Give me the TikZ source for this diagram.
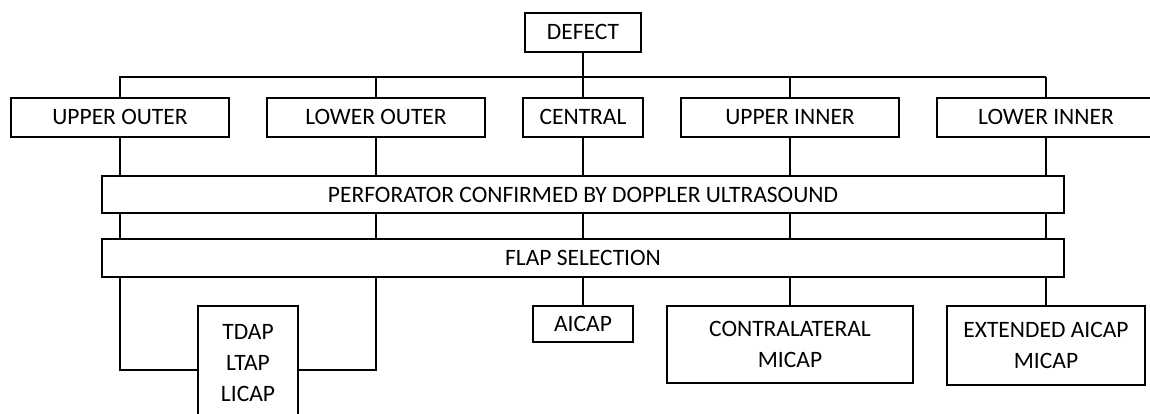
\documentclass[tikz,border=0pt]{standalone}
\usepackage{fontspec}
\setmainfont{Carlito}
\begin{document}
\begin{tikzpicture}[
  x=1pt, y=-1pt,
  line width=1.8pt,
  box/.style={draw, align=center, inner sep=0pt, minimum height=39pt, font=\fontsize{23.5}{31}\selectfont},
  linebox/.style={box, text height=15pt, text depth=0pt},
  areabox/.style={linebox, minimum width=218pt},
  barbox/.style={linebox, minimum width=962pt, minimum height=37pt}
]
\useasboundingbox (0,0) rectangle (1150,414);

\node[linebox, minimum width=116pt] (defect) at (583,32.5) {DEFECT};

\node[areabox] (uo) at (120,117.5) {UPPER OUTER};
\node[areabox] (lo) at (376,117.5) {LOWER OUTER};
\node[linebox, minimum width=120pt] (cen) at (583,117.5) {CENTRAL};
\node[areabox] (ui) at (790,117.5) {UPPER INNER};
\node[areabox] (li) at (1046,117.5) {LOWER INNER};

\node[barbox] (perf) at (583,194.5) {PERFORATOR CONFIRMED BY DOPPLER ULTRASOUND};
\node[barbox, minimum height=38pt] (flap) at (583,258) {FLAP SELECTION};

\node[box, minimum width=100pt, minimum height=114pt] (tdap) at (248,363) {TDAP\\LTAP\\LICAP};
\node[linebox, minimum width=100pt, minimum height=36pt] (aicap) at (583,324) {AICAP};
\node[box, minimum width=246pt, minimum height=77pt] (contra) at (790,344.5) {CONTRALATERAL\\MICAP};
\node[box, minimum width=198pt, minimum height=79pt] (ext) at (1046,345.5) {EXTENDED AICAP\\MICAP};

\coordinate (bus) at (1046,77);

\draw (defect) -- (cen);
\draw (uo.north) |- (bus);
\draw (li.north) -- (bus);
\draw (lo.north) -- (lo.north |- bus);
\draw (ui.north) -- (ui.north |- bus);

\foreach \n in {uo,lo,cen,ui,li} {
  \draw (\n.south) -- (\n.south |- perf.north);
  \draw (\n.south |- perf.south) -- (\n.south |- flap.north);
}

\draw (uo.south |- flap.south) |- ([yshift=-7pt]tdap.west);
\draw (lo.south |- flap.south) |- ([yshift=-7pt]tdap.east);
\draw (aicap) -- (aicap |- flap.south);
\draw (contra) -- (contra |- flap.south);
\draw (ext) -- (ext |- flap.south);
\end{tikzpicture}
\end{document}
